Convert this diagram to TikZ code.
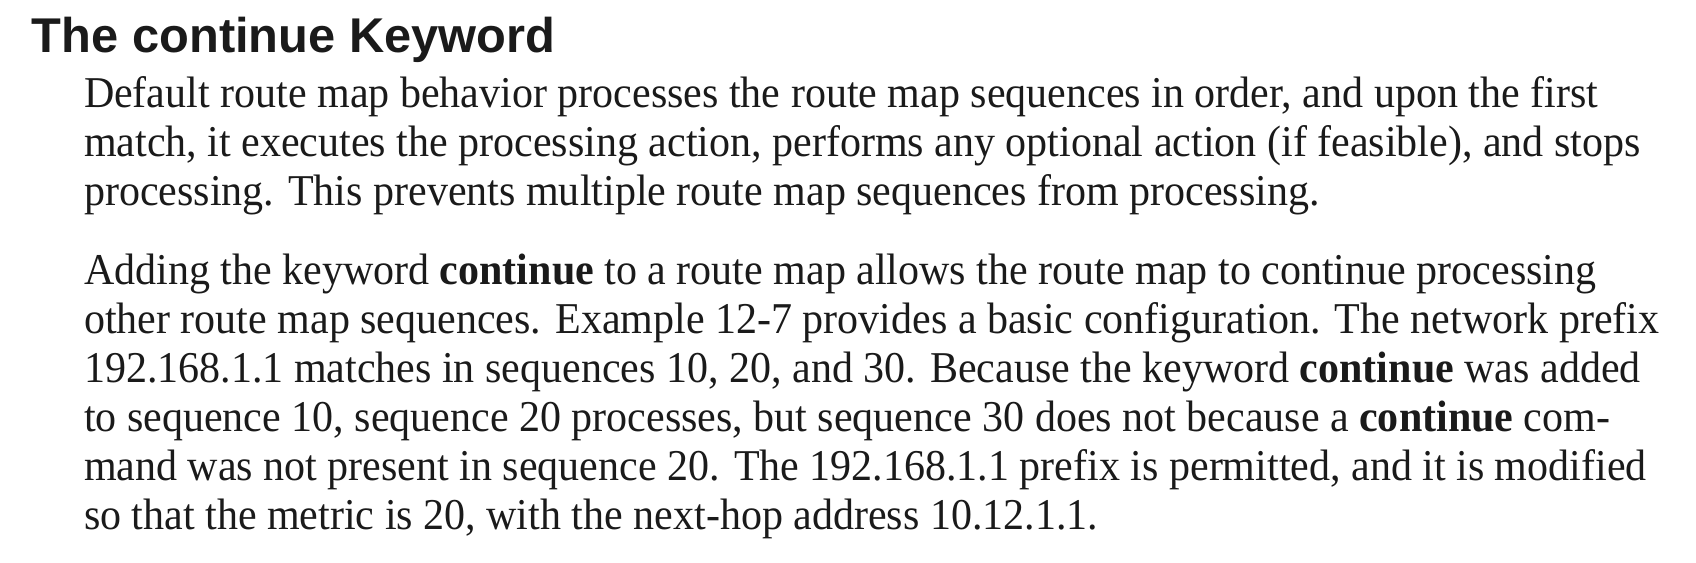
\documentclass[tikz,border=0pt]{standalone}
\usepackage{fontspec}
\setmainfont[FakeStretch=0.955]{Liberation Serif}
\newfontfamily\headfont{Liberation Sans}
\usetikzlibrary{positioning}
\definecolor{ink}{HTML}{1A1A1A}
\begin{document}
\begin{tikzpicture}[x=0.5pt,y=-0.5pt,
		every node/.style={inner sep=0pt, outer sep=0pt, anchor=base west, text=ink},
		head/.style={font=\headfont\bfseries\fontsize{24.4}{29}\selectfont},
		body/.style={font=\fontsize{22}{25}\selectfont}
	]
	\useasboundingbox (0,0) rectangle (1696,562);

	% Heading
	\node[head] (title) at (32,52) {The continue Keyword};

	% First paragraph
	\foreach \txt [count=\i] in {
		{Default route map behavior processes the route map sequences in order, and upon the first},
		{match, it executes the processing action, performs any optional action (if feasible), and stops},
		{processing. This prevents multiple route map sequences from processing.}}
		\node[body] (pa-\i) at (84,{58+49*\i}) {\txt};

	% Second paragraph
	\foreach \txt [count=\i] in {
		{Adding the keyword \textbf{continue} to a route map allows the route map to continue processing},
		{other route map sequences. Example 12-7 provides a basic configuration. The network prefix},
		{192.168.1.1 matches in sequences 10, 20, and 30. Because the keyword \textbf{continue} was added},
		{to sequence 10, sequence 20 processes, but sequence 30 does not because a \textbf{continue} com-},
		{mand was not present in sequence 20. The 192.168.1.1 prefix is permitted, and it is modified},
		{so that the metric is 20, with the next-hop address 10.12.1.1.}}
		\node[body] (pb-\i) at (84,{235+49*\i}) {\txt};

\end{tikzpicture}
\end{document}
